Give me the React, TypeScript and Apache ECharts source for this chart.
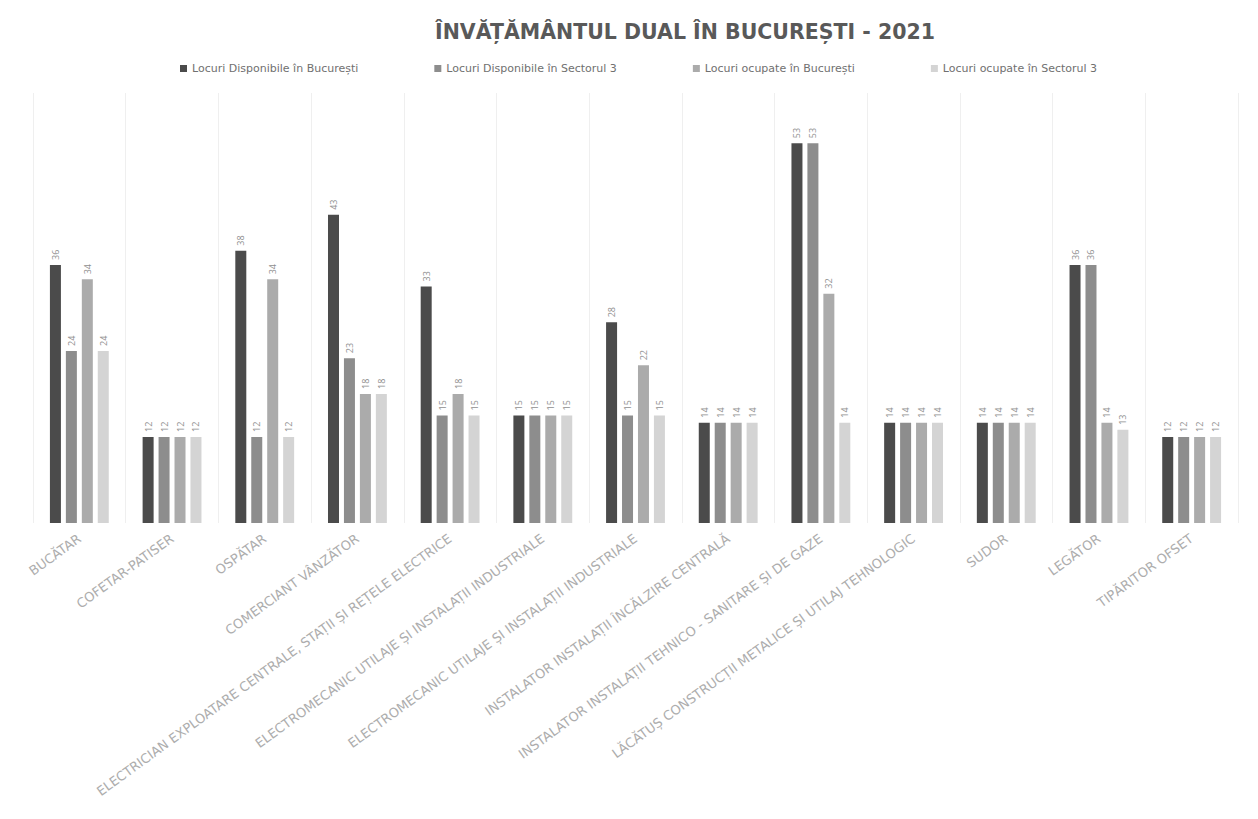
import React, { useEffect, useRef } from "react";
import * as echarts from "echarts";

const categories = [
  "BUCĂTAR",
  "COFETAR-PATISER",
  "OSPĂTAR",
  "COMERCIANT VÂNZĂTOR",
  "ELECTRICIAN EXPLOATARE CENTRALE, STAȚII ȘI REȚELE ELECTRICE",
  "ELECTROMECANIC UTILAJE ȘI INSTALAȚII INDUSTRIALE",
  "ELECTROMECANIC UTILAJE ȘI INSTALAȚII INDUSTRIALE",
  "INSTALATOR INSTALAȚII ÎNCĂLZIRE CENTRALĂ",
  "INSTALATOR INSTALAȚII TEHNICO - SANITARE ȘI DE GAZE",
  "LĂCĂTUȘ CONSTRUCȚII METALICE ȘI UTILAJ TEHNOLOGIC",
  "SUDOR",
  "LEGĂTOR",
  "TIPĂRITOR OFSET",
];

const seriesNames = [
  "Locuri Disponibile în București",
  "Locuri Disponibile în Sectorul 3",
  "Locuri ocupate în București",
  "Locuri ocupate în Sectorul 3",
];

const disponibileBucuresti = [36, 12, 38, 43, 33, 15, 28, 14, 53, 14, 14, 36, 12];
const disponibileSector3 = [24, 12, 12, 23, 15, 15, 15, 14, 53, 14, 14, 36, 12];
const ocupateBucuresti = [34, 12, 34, 18, 18, 15, 22, 14, 32, 14, 14, 14, 12];
const ocupateSector3 = [24, 12, 12, 18, 15, 15, 15, 14, 14, 14, 14, 13, 12];

const seriesColors = ["#4b4b4b", "#8d8d8d", "#ababab", "#d4d4d4"];

export default function App() {
  const ref = useRef<HTMLDivElement>(null);
  useEffect(() => {
    document.body.style.margin = "0";
    const chart = echarts.init(ref.current!, null, { renderer: "svg" });
    const datasets = [disponibileBucuresti, disponibileSector3, ocupateBucuresti, ocupateSector3];
    chart.setOption({
      animation: false,
      backgroundColor: "#ffffff",
      textStyle: { fontFamily: "DejaVu Sans" },
      title: {
        text: "ÎNVĂȚĂMÂNTUL DUAL ÎN BUCUREȘTI - 2021",
        left: 430,
        top: 16,
        textStyle: { fontSize: 20.5, fontWeight: "bold", color: "#595959", fontFamily: "DejaVu Sans" },
      },
      legend: {
        top: 58,
        left: 175,
        itemWidth: 7,
        itemHeight: 7,
        itemGap: 76,
        icon: "rect",
        textStyle: { fontSize: 11, color: "#707070", fontFamily: "DejaVu Sans" },
        data: seriesNames,
      },
      grid: { left: 33, right: 20, top: 93, bottom: 296, containLabel: false },
      xAxis: {
        type: "category",
        data: categories,
        axisLine: { show: false },
        axisTick: { show: false },
        splitLine: { show: true, lineStyle: { color: "#efefef", width: 1 } },
        axisLabel: {
          rotate: 36,
          interval: 0,
          fontSize: 13,
          color: "#adadad",
          margin: 14,
          fontFamily: "DejaVu Sans",
        },
      },
      yAxis: {
        type: "value",
        min: 0,
        max: 60,
        interval: 10,
        show: false,
        splitLine: { show: false },
      },
      series: datasets.map((d, i) => ({
        name: seriesNames[i],
        type: "bar",
        data: d,
        barWidth: 11,
        barGap: "45%",
        itemStyle: { color: seriesColors[i] },
        label: {
          show: true,
          position: "top",
          rotate: 90,
          align: "left",
          verticalAlign: "middle",
          distance: 5,
          fontSize: 9,
          color: "#8f8f8f",
          fontFamily: "Open Sans",
        },
      })),
    });
    return () => chart.dispose();
  }, []);
  return <div ref={ref} style={{ position: "absolute", left: 0, top: 0, width: 1258, height: 819 }} />;
}
